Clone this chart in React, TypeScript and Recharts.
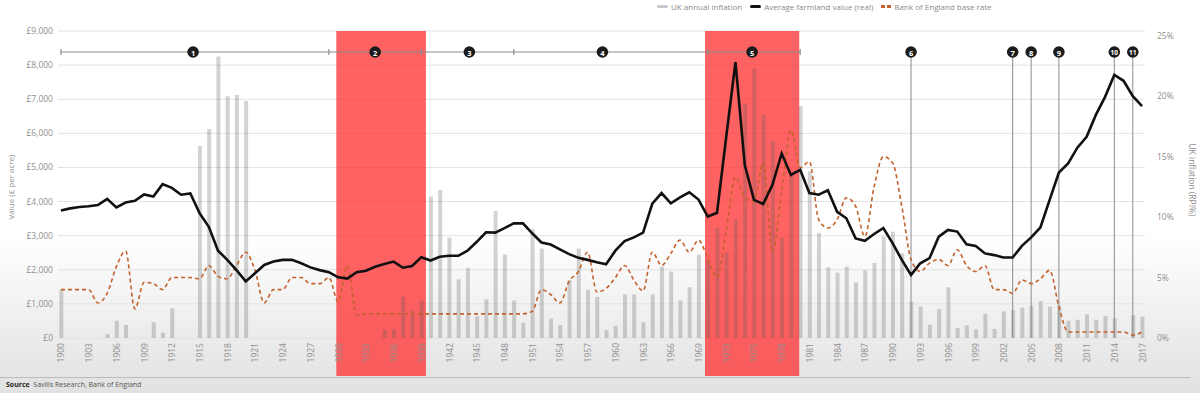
import React from 'react';
import {
  ComposedChart, Bar, Line, XAxis, YAxis, CartesianGrid,
  ReferenceArea, ReferenceLine, ReferenceDot,
} from 'recharts';

// one entry per year, 1900..2017
const years = Array.from({ length: 118 }, (_, i) => 1900 + i);
const yearTicks = years.filter((y) => (y - 1900) % 3 === 0);

// Average farmland value (real), £ per acre
const farmlandValue = [
  3740, 3800, 3840, 3860, 3900, 4080, 3830, 3970, 4020, 4210, // 1900s
  4150, 4510, 4400, 4200, 4240, 3660, 3260, 2560, 2290, 1990, // 1910s
  1660, 1900, 2140, 2240, 2290, 2290, 2190, 2070, 1990, 1930, // 1920s
  1780, 1740, 1930, 1970, 2090, 2170, 2240, 2060, 2110, 2370, // 1930s
  2270, 2380, 2410, 2410, 2560, 2820, 3100, 3090, 3220, 3360, // 1940s
  3360, 3070, 2800, 2740, 2600, 2460, 2350, 2290, 2220, 2160, // 1950s
  2560, 2840, 2950, 3090, 3940, 4250, 3950, 4120, 4270, 4060, // 1960s
  3560, 3670, 5900, 8090, 5080, 4050, 3930, 4490, 5410, 4780, // 1970s
  4930, 4250, 4200, 4330, 3700, 3510, 2920, 2850, 3050, 3220, // 1980s
  2780, 2290, 1850, 2190, 2340, 2970, 3170, 3120, 2750, 2700, // 1990s
  2480, 2430, 2360, 2360, 2700, 2950, 3240, 4050, 4850, 5120, // 2000s
  5580, 5900, 6540, 7070, 7710, 7540, 7090, 6800,             // 2010s
];

// Bank of England base rate, %
const baseRate = [
  4.0, 4.0, 4.0, 4.0, 2.9, 3.7, 5.9, 7.2, 2.4, 4.6,
  4.5, 4.0, 5.0, 5.0, 5.0, 4.9, 6.0, 5.1, 4.9, 6.0,
  7.1, 5.6, 2.9, 4.0, 4.0, 5.0, 5.0, 4.5, 4.5, 5.0,
  3.0, 6.0, 1.9, 2.0, 2.0, 2.0, 2.0, 2.0, 2.0, 2.0,
  2.0, 2.0, 2.0, 2.0, 2.0, 2.0, 2.0, 2.0, 2.0, 2.0,
  2.0, 2.2, 4.0, 3.6, 2.9, 4.7, 5.5, 7.1, 3.8, 4.1,
  5.0, 6.0, 4.8, 3.9, 7.1, 6.0, 7.0, 8.1, 7.1, 8.1,
  6.6, 5.0, 8.9, 13.3, 11.6, 11.3, 14.5, 7.1, 12.1, 17.2,
  14.1, 14.6, 9.8, 9.1, 9.8, 11.6, 10.9, 8.4, 12.5, 15.0,
  14.5, 10.9, 6.5, 5.5, 6.2, 6.5, 6.0, 7.3, 6.0, 5.5,
  6.0, 4.0, 4.0, 3.7, 4.8, 4.5, 4.9, 5.6, 2.6, 0.5,
  0.5, 0.5, 0.5, 0.5, 0.5, 0.5, 0.25, 0.5,
];

// UK annual inflation (RPI), % — deflation years shown as 0
const inflation = [
  4.0, 0, 0, 0, 0, 0.33, 1.43, 1.08, 0, 0,
  1.3, 0.44, 2.46, 0, 0, 15.9, 17.3, 23.3, 20.0, 20.1,
  19.6, 0, 0, 0, 0, 0, 0, 0, 0, 0,
  0, 0, 0, 0, 0, 0.66, 0.75, 3.42, 2.26, 3.09,
  11.7, 12.25, 8.3, 4.86, 5.8, 1.8, 3.2, 10.5, 6.9, 3.1,
  1.27, 9.0, 7.4, 1.6, 1.08, 4.8, 7.4, 4.0, 3.4, 0.66,
  1.0, 3.6, 3.6, 1.3, 3.6, 5.9, 5.5, 3.1, 4.2, 6.9,
  6.4, 9.1, 7.1, 9.8, 19.4, 22.3, 18.5, 16.3, 8.3, 13.4,
  19.2, 13.8, 8.7, 5.85, 5.4, 5.9, 4.6, 5.6, 6.2, 8.4,
  8.8, 7.0, 3.0, 2.6, 1.1, 2.4, 4.2, 0.83, 1.05, 0.72,
  2.0, 0.75, 2.2, 2.3, 2.5, 2.65, 3.06, 2.6, 2.7, 1.43,
  1.5, 1.96, 1.5, 1.82, 1.63, 0, 1.9, 1.77,
];

const valueTicks = [0, 1000, 2000, 3000, 4000, 5000, 6000, 7000, 8000, 9000];
const pctTicks = [0, 5, 10, 15, 20, 25];

// shaded periods (years)
const shaded = [
  { from: 1929.8, to: 1939.5 },
  { from: 1969.7, to: 1979.9 },
];

// timeline across the top
const phaseBounds = [1900, 1929, 1939, 1949, 1970, 1980];
const markers = [
  { n: 1, year: 1914.3 },
  { n: 2, year: 1934 },
  { n: 3, year: 1944.2 },
  { n: 4, year: 1958.6 },
  { n: 5, year: 1974.8 },
  { n: 6, year: 1992, drop: true },
  { n: 7, year: 2003, drop: true },
  { n: 8, year: 2005, drop: true },
  { n: 9, year: 2008, drop: true },
  { n: 10, year: 2014, drop: true },
  { n: 11, year: 2016, drop: true },
];
const TIMELINE_Y = 8384;

const data = years.map((year, i) => ({
  year,
  inflation: inflation[i],
  farmland: farmlandValue[i],
  baseRate: baseRate[i],
}));

const TICK = '#8f8f8f';

const YearTick = ({ x, y, payload }: any) => (
  <text
    x={x}
    y={y}
    transform={`rotate(-90 ${x} ${y})`}
    textAnchor="end"
    dominantBaseline="central"
    fontSize={8.5}
    fill={TICK}
  >
    {payload.value}
  </text>
);

const MarkerDot = ({ cx, cy, n }: any) => (
  <g>
    <circle cx={cx} cy={cy} r={5.8} fill="#1b1b1b" />
    <text x={cx} y={cy + 0.5} textAnchor="middle" dominantBaseline="central"
      fontSize={n > 9 ? 6.5 : 7.5} fontWeight={700} fill="#fff">{n}</text>
  </g>
);

const LegendItem = ({ icon, label }: { icon: React.ReactNode; label: string }) => (
  <div style={{ display: 'flex', alignItems: 'center', gap: 3 }}>
    {icon}
    <span>{label}</span>
  </div>
);

export default function App() {
  return (
    <div
      style={{
        position: 'absolute', left: 0, top: 0, width: 1200, height: 393, overflow: 'hidden',
        fontFamily: '"Open Sans", sans-serif',
        background: 'linear-gradient(to bottom, #ffffff 0%, #ffffff 60%, #ededed 84%, #e1e1e1 100%)',
      }}
    >
      {/* legend */}
      <div style={{
        position: 'absolute', left: 657, top: 0, height: 12, display: 'flex', alignItems: 'center',
        gap: 8, fontSize: 8, color: '#8a8a8a', whiteSpace: 'nowrap',
      }}>
        <LegendItem icon={<span style={{ width: 11, height: 3, background: '#c9c9c9', borderRadius: 2 }} />} label="UK annual inflation" />
        <LegendItem icon={<span style={{ width: 11, height: 3, background: '#111', borderRadius: 2 }} />} label="Average farmland value (real)" />
        <LegendItem
          icon={<span style={{ display: 'flex', gap: 2 }}>
            <span style={{ width: 4, height: 3, background: '#c4622d' }} />
            <span style={{ width: 4, height: 3, background: '#c4622d' }} />
          </span>}
          label="Bank of England base rate"
        />
      </div>

      <ComposedChart
        width={1200}
        height={393}
        data={data}
        margin={{ top: 31, right: 5, bottom: 15, left: 8 }}
      >
        <CartesianGrid yAxisId="left" vertical={false} stroke="#e2e2e2" />
        <XAxis
          dataKey="year"
          type="number"
          domain={[1899.68, 2017.32]}
          allowDataOverflow
          ticks={yearTicks}
          interval={0}
          tick={<YearTick />}
          tickSize={0}
          tickMargin={5}
          axisLine={false}
          tickLine={false}
          height={40}
        />
        <YAxis
          yAxisId="left"
          domain={[0, 9000]}
          ticks={valueTicks}
          tickFormatter={(v: number) => '£' + v.toLocaleString('en-GB')}
          axisLine={false}
          tickLine={false}
          tickSize={0}
          tickMargin={5}
          width={50}
          tick={{ fontSize: 8.5, fill: TICK }}
        />
        <YAxis
          yAxisId="right"
          orientation="right"
          domain={[0, 25.4]}
          ticks={pctTicks}
          tickFormatter={(v: number) => v + '%'}
          axisLine={false}
          tickLine={false}
          tickSize={0}
          tickMargin={12}
          width={50}
          tick={{ fontSize: 8.5, fill: TICK, textAnchor: 'start' }}
        />

        {/* shaded periods sit under the series; they also tint the year labels */}
        {shaded.map((s) => (
          <ReferenceArea
            key={s.from}
            yAxisId="left"
            x1={s.from}
            x2={s.to}
            y1={-1114}
            y2={9000}
            fill="#ff3030"
            fillOpacity={0.76}
            stroke="none"
            ifOverflow="visible"
          />
        ))}

        {markers.filter((m) => m.drop).map((m) => (
          <ReferenceLine
            key={'drop' + m.n}
            yAxisId="left"
            segment={[{ x: m.year, y: 0 }, { x: m.year, y: TIMELINE_Y }]}
            stroke="#8c8c8c"
            strokeWidth={1}
            ifOverflow="visible"
          />
        ))}

        <Bar yAxisId="right" dataKey="inflation" fill="#5e5e5e" fillOpacity={0.27} barSize={4} isAnimationActive={false} />

        <Line yAxisId="right" type="monotone" dataKey="baseRate" stroke="#c4622d" strokeWidth={1.6}
          strokeDasharray="4 3" dot={false} activeDot={false} isAnimationActive={false} />
        <Line yAxisId="left" type="linear" dataKey="farmland" stroke="#111" strokeWidth={2.6}
          dot={false} activeDot={false} isAnimationActive={false} />

        <ReferenceLine
          yAxisId="left"
          segment={[{ x: phaseBounds[0], y: TIMELINE_Y }, { x: phaseBounds[phaseBounds.length - 1], y: TIMELINE_Y }]}
          stroke="#8c8c8c"
          strokeWidth={1.2}
          ifOverflow="visible"
        />
        {phaseBounds.map((b) => (
          <ReferenceLine
            key={'pb' + b}
            yAxisId="left"
            segment={[{ x: b, y: TIMELINE_Y - 90 }, { x: b, y: TIMELINE_Y + 90 }]}
            stroke="#8c8c8c"
            strokeWidth={1.2}
            ifOverflow="visible"
          />
        ))}
        {markers.map((m) => (
          <ReferenceDot
            key={'m' + m.n}
            yAxisId="left"
            x={m.year}
            y={TIMELINE_Y}
            r={5.8}
            ifOverflow="visible"
            shape={(p: any) => <MarkerDot {...p} n={m.n} />}
          />
        ))}
      </ComposedChart>

      {/* axis titles */}
      <div style={{
        position: 'absolute', left: 10, top: 187, transform: 'translate(-50%, -50%) rotate(-90deg)',
        fontSize: 8, color: '#8f8f8f', whiteSpace: 'nowrap',
      }}>Value (£ per acre)</div>
      <div style={{
        position: 'absolute', left: 1192, top: 180, transform: 'translate(-50%, -50%) rotate(90deg)',
        fontSize: 8.5, color: '#8f8f8f', whiteSpace: 'nowrap',
      }}>UK inflation (RPI%)</div>

      {/* footer */}
      <div style={{ position: 'absolute', left: 0, top: 377, width: 1190, height: 1, background: '#bdbdbd' }} />
      <div style={{ position: 'absolute', left: 6, top: 380, fontSize: 7, color: '#555', whiteSpace: 'nowrap' }}>
        <b style={{ color: '#222' }}>Source</b>&nbsp; Savills Research, Bank of England
      </div>
    </div>
  );
}
